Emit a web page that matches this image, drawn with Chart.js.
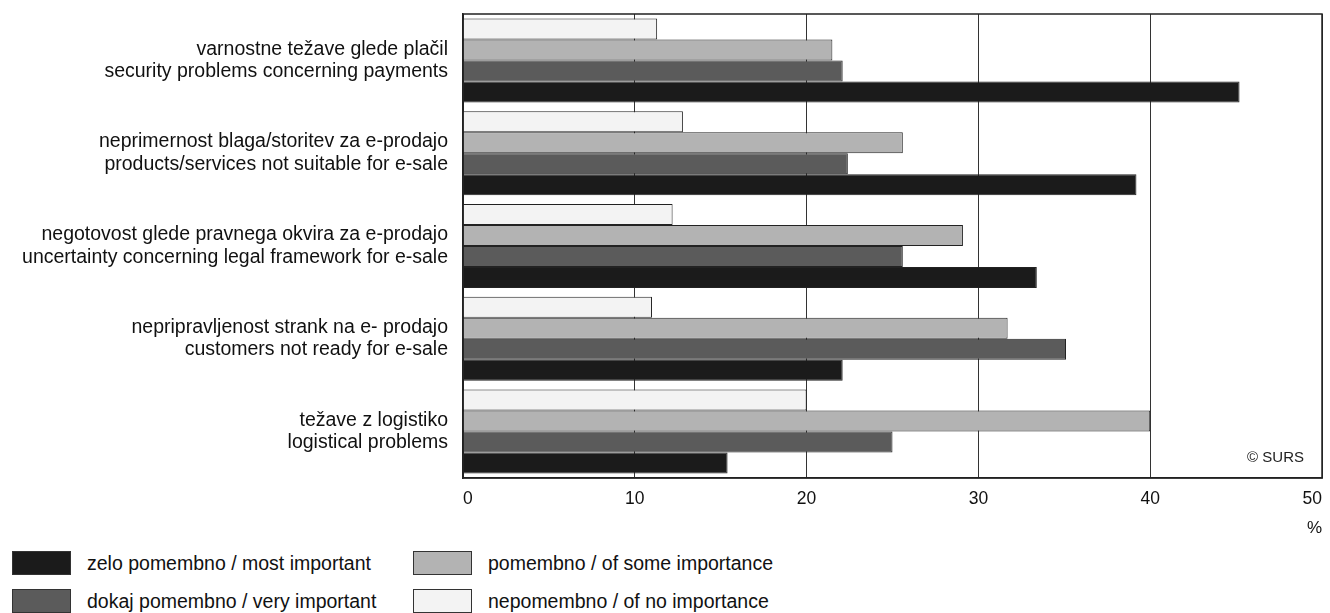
<!DOCTYPE html>
<html>
<head>
<meta charset="utf-8">
<script src="https://cdn.jsdelivr.net/npm/chart.js@4.4.1/dist/chart.umd.min.js"></script>
<style>
  html, body { margin: 0; background: #fff; font-family: "Liberation Sans", Arial, sans-serif; overflow: hidden; }
  #wrap { position: relative; width: 1330px; height: 545px; }
  .legend { position: absolute; font-size: 19.5px; color: #111; }
  .legend .box { position: absolute; width: 59px; height: 24px; border: 1px solid #333; box-sizing: border-box; }
  .legend .txt { position: absolute; white-space: nowrap; line-height: 24px; }
</style>
</head>
<body>
<div id="wrap"><canvas id="myChart"></canvas></div>
<div id="legend"></div>
<script>
// categories (top to bottom), each label on two lines
var categories = [
    ['varnostne težave glede plačil', 'security problems concerning payments'],
    ['neprimernost blaga/storitev za e-prodajo', 'products/services not suitable for e-sale'],
    ['negotovost glede pravnega okvira za e-prodajo', 'uncertainty concerning legal framework for e-sale'],
    ['nepripravljenost strank na e- prodajo', 'customers not ready for e-sale'],
    ['težave z logistiko', 'logistical problems']
];

// series values (%)
var noImportance   = [11.3, 12.8, 12.2, 11.0, 20.0];
var someImportance = [21.5, 25.6, 29.1, 31.7, 40.0];
var veryImportant  = [22.1, 22.4, 25.6, 35.1, 25.0];
var mostImportant  = [45.2, 39.2, 33.4, 22.1, 15.4];

var seriesNames = [
    'nepomembno / of no importance',
    'pomembno / of some importance',
    'dokaj pomembno / very important',
    'zelo pomembno / most important'
];
var xTicks = [0, 10, 20, 30, 40, 50];

var colors = ['#f3f3f3', '#b3b3b3', '#5b5b5b', '#1b1b1b'];

// frame around the plot area + copyright note
var framePlugin = {
    id: 'frame',
    afterDraw: function(chart) {
        var a = chart.chartArea, ctx = chart.ctx;
        ctx.save();
        ctx.strokeStyle = '#222';
        ctx.lineWidth = 1.5;
        ctx.strokeRect(a.left, a.top, a.right - a.left, a.bottom - a.top);
        ctx.fillStyle = '#222';
        ctx.font = '15px "Liberation Sans", Arial, sans-serif';
        ctx.textAlign = 'right';
        ctx.textBaseline = 'middle';
        ctx.fillText('© SURS', a.right - 18, a.bottom - 20);
        ctx.restore();
    }
};

var ctx = document.getElementById('myChart').getContext('2d');
var myChart = new Chart(ctx, {
    type: 'bar',
    data: {
        labels: categories,
        datasets: [
            { label: seriesNames[0], data: noImportance,   backgroundColor: colors[0] },
            { label: seriesNames[1], data: someImportance, backgroundColor: colors[1] },
            { label: seriesNames[2], data: veryImportant,  backgroundColor: colors[2] },
            { label: seriesNames[3], data: mostImportant,  backgroundColor: colors[3] }
        ]
    },
    options: {
        indexAxis: 'y',
        responsive: true,
        maintainAspectRatio: false,
        animation: false,
        layout: { padding: { top: 14, right: 8, left: 0, bottom: 2 } },
        datasets: {
            bar: {
                borderColor: '#222',
                borderWidth: 1,
                categoryPercentage: 0.905,
                barPercentage: 1.0
            }
        },
        plugins: {
            legend: { display: false },
            tooltip: { enabled: false }
        },
        scales: {
            x: {
                min: 0,
                max: 50,
                afterBuildTicks: function(scale) {
                    scale.ticks = xTicks.map(function(v) { return { value: v }; });
                },
                afterFit: function(scale) {
                    scale.height = 65;
                    scale.paddingLeft = 0;
                    scale.paddingRight = 0;
                },
                grid: { color: '#333', lineWidth: 1, drawTicks: false },
                border: { display: true, color: '#222', width: 1.5 },
                ticks: {
                    color: '#111',
                    padding: 11,
                    align: 'inner',
                    font: { family: '"Liberation Sans", Arial, sans-serif', size: 17.5 }
                },
                title: {
                    display: true,
                    text: '%',
                    align: 'end',
                    color: '#111',
                    padding: { top: 4, bottom: 4 },
                    font: { family: '"Liberation Sans", Arial, sans-serif', size: 17 }
                }
            },
            y: {
                afterFit: function(scale) {
                    scale.width = 463;
                    scale.paddingTop = 0;
                    scale.paddingBottom = 0;
                },
                grid: { display: false, drawTicks: false },
                border: { display: true, color: '#222', width: 1.5 },
                ticks: {
                    color: '#111',
                    padding: 15,
                    font: { family: '"Liberation Sans", Arial, sans-serif', size: 19.5, lineHeight: 1.15 }
                }
            }
        }
    },
    plugins: [framePlugin]
});

// legend in two columns, like the original
var legendItems = [
    { name: seriesNames[3], color: colors[3], x: 12,  y: 551 },
    { name: seriesNames[2], color: colors[2], x: 12,  y: 589 },
    { name: seriesNames[1], color: colors[1], x: 413, y: 551 },
    { name: seriesNames[0], color: colors[0], x: 413, y: 589 }
];
var legendHtml = '';
legendItems.forEach(function(item) {
    legendHtml += '<div class="legend" style="left:' + item.x + 'px;top:' + item.y + 'px">' +
        '<div class="box" style="left:0;top:0;background:' + item.color + '"></div>' +
        '<div class="txt" style="left:75px;top:0">' + item.name + '</div></div>';
});
document.getElementById('legend').innerHTML = legendHtml;
</script>
</body>
</html>
